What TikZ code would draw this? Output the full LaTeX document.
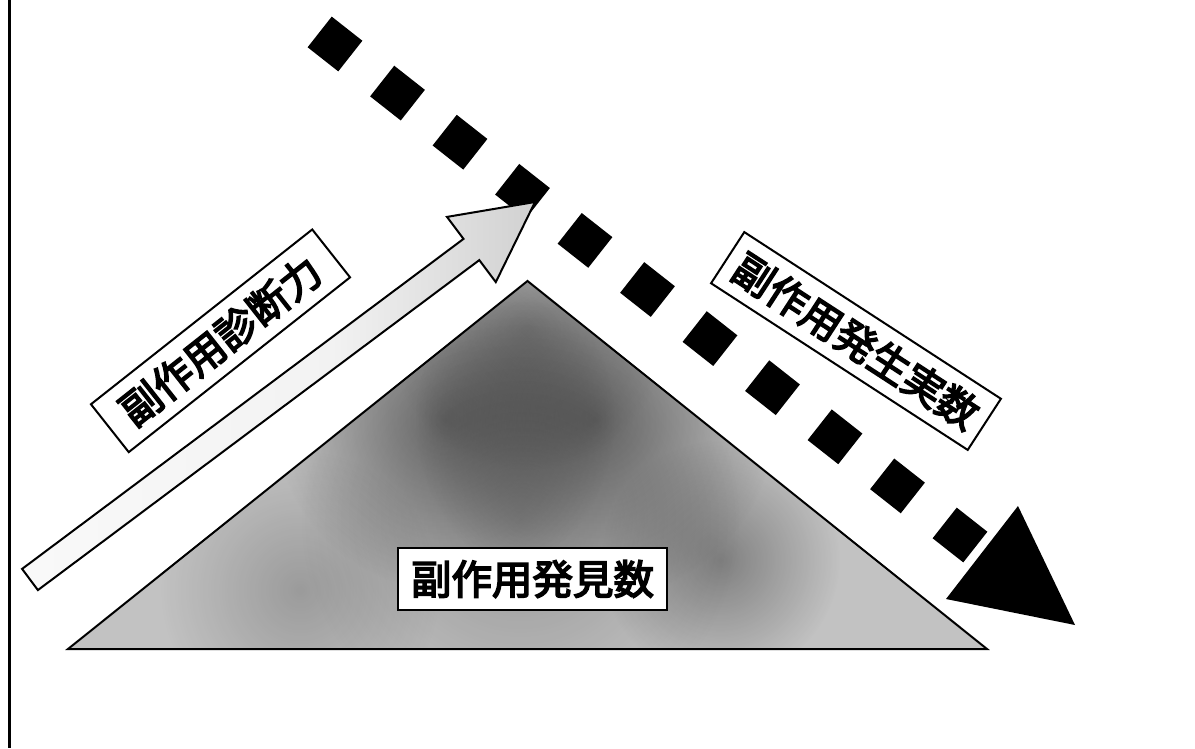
\documentclass[tikz,border=0pt]{standalone}
\usepackage{fontspec}
\usetikzlibrary{fadings}
\newfontfamily\jp{Noto Sans CJK JP}[FakeBold=4]
\tikzfading[name=myblob, inner color=transparent!0, outer color=transparent!100]
\pgfdeclarehorizontalshading{arrowsh}{100bp}{color(0bp)=(white); color(55bp)=(black!5); color(78bp)=(black!20); color(90bp)=(black!50); color(100bp)=(black!42)}
\begin{document}
\begin{tikzpicture}[x=1pt,y=-1pt,
  lbl/.style={draw=black, line width=2pt, fill=white, inner sep=0pt,
    font=\jp\fontsize{40.5}{48}\selectfont, minimum height=61pt},
  outl/.style={draw=black, line width=2pt, line join=miter},
  sq/.style={fill=black},
  blob/.style={fill=black, path fading=myblob}]
\useasboundingbox (0,0) rectangle (1195,748);
\fill[white] (0,0) rectangle (1195,748);
% left frame line
\coordinate (ftop) at (9.5,0);
\coordinate (fbot) at (9.5,748);
\draw[line width=2.2pt] (ftop) -- (fbot);

% ---------- triangle ----------
\coordinate (tl) at (68,649);
\coordinate (tt) at (527.5,281);
\coordinate (tr) at (987,649);
\begin{scope}
  \clip (tl) -- (tt) -- (tr) -- cycle;
  \fill[black!24] (0,250) rectangle (1100,700);
  \fill[blob, opacity=0.22] (527,330) circle (140);
  \fill[blob, opacity=0.42] (445,420) circle (170);
  \fill[blob, opacity=0.44] (595,420) circle (180);
  \fill[blob, opacity=0.34] (720,560) circle (120);
  \fill[blob, opacity=0.20] (300,590) circle (140);
  \fill[blob, opacity=0.22] (520,520) circle (220);
\end{scope}
\draw[outl] (tl) -- (tt) -- (tr) -- cycle;

% ---------- dashed (square) arrow ----------
\foreach \i in {0,...,10}{
  \fill[sq, shift={({335+62.5*\i},{44+49.1*\i})}, rotate=-38.2]
    (-19.5,-19.5) rectangle (19.5,19.5);
}
\coordinate (ha) at (946,599);
\coordinate (hb) at (1018,506);
\coordinate (htip) at (1075,625);
\fill[black] (ha) -- (hb) -- (htip) -- cycle;

% ---------- hollow arrow ----------
\coordinate (a1) at (22.1,568.9);
\coordinate (a2) at (463.5,238.9);
\coordinate (a3) at (447,216.9);
\coordinate (atip) at (535,202);
\coordinate (a5) at (495.8,282.1);
\coordinate (a6) at (479.3,260.1);
\coordinate (a7) at (37.9,590.1);
\shade[shading=arrowsh] (a1) -- (a2) -- (a3) -- (atip) -- (a5) -- (a6) -- (a7) -- cycle;
\draw[outl] (a1) -- (a2) -- (a3) -- (atip) -- (a5) -- (a6) -- (a7) -- cycle;

% ---------- labels ----------
\node[lbl, rotate=38.3, minimum width=282pt] (diag) at (220.5,340.8) {副作用診断力};
\node[lbl, rotate=-33, minimum width=306pt] (occur) at (856,341) {副作用発生実数};
\node[lbl, minimum width=269pt, minimum height=62pt] (found) at (532.5,579) {副作用発見数};
\end{tikzpicture}
\end{document}
